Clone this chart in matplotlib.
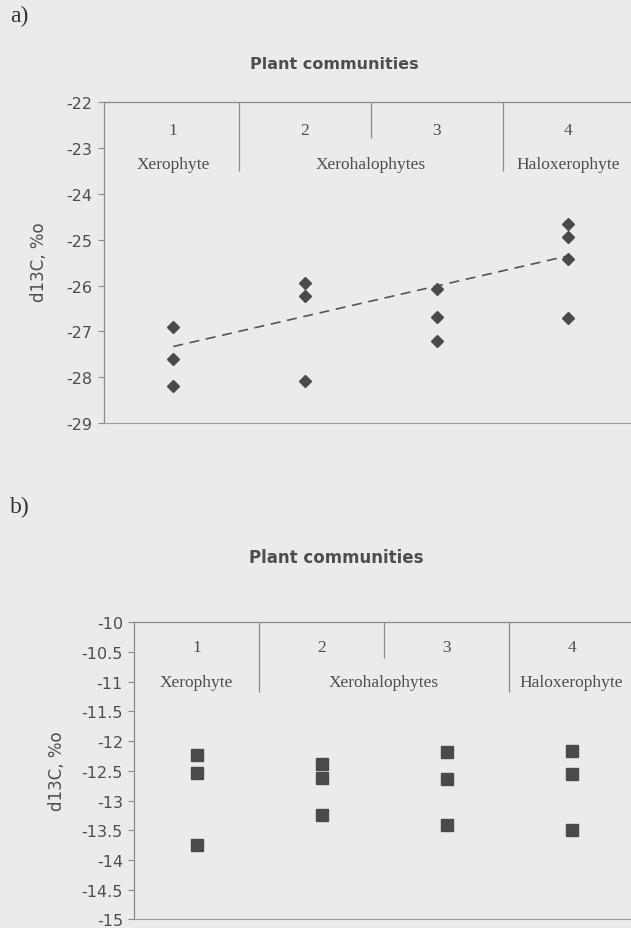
import matplotlib
matplotlib.use("Agg")
import matplotlib.pyplot as plt

# ---- data ----
categories = [1, 2, 3, 4]
cat_numbers = ["1", "2", "3", "4"]
group_names = ["Xerophyte", "Xerohalophytes", "Haloxerophyte"]
group_centers = [1, 2.5, 4]
dividers = [1.5, 2.5, 3.5]

# panel a (diamonds)
a_x = [1, 1, 1, 2, 2, 2, 3, 3, 3, 4, 4, 4, 4]
a_y = [-26.91, -27.61, -28.19,
       -25.94, -26.23, -28.09,
       -26.08, -26.68, -27.20,
       -24.65, -24.94, -25.42, -26.70]
a_trend_x = [1, 4]
a_trend_y = [-27.33, -25.35]
a_yticks = [-22, -23, -24, -25, -26, -27, -28, -29]

# panel b (squares)
b_x = [1, 1, 1, 2, 2, 2, 3, 3, 3, 4, 4, 4]
b_y = [-12.23, -12.53, -13.75,
       -12.38, -12.62, -13.24,
       -12.19, -12.64, -13.42,
       -12.16, -12.56, -13.49]
b_yticks = [-10, -10.5, -11, -11.5, -12, -12.5, -13, -13.5, -14, -14.5, -15]

BG = "#ebebeb"
TXT = "#4d4d4d"
LINE = "#8a8a8a"
MARK = "#4a4a4a"

W, H = 631, 929
fig = plt.figure(figsize=(W / 100, H / 100), dpi=100, facecolor=BG)


def fx(px):
    return px / W


def fy(py):
    return 1 - py / H


def setup(ax, ylim, yticks, xlim):
    ax.set_facecolor("none")
    ax.set_xlim(*xlim)
    ax.set_ylim(*ylim)
    ax.set_xticks([])
    ax.set_yticks(yticks)
    ax.set_yticklabels([("%g" % t) for t in yticks],
                       fontfamily="DejaVu Sans", fontsize=11.5, color=TXT)
    ax.tick_params(axis="y", direction="out", length=4, width=0.8,
                   color=LINE, pad=4)
    for s in ["left", "top"]:
        ax.spines[s].set_color(LINE)
        ax.spines[s].set_linewidth(0.9)
    ax.spines["right"].set_visible(False)
    ax.spines["bottom"].set_color("#9a9a9a")
    ax.spines["bottom"].set_linewidth(0.8)
    ax.spines["bottom"].set_linestyle((0, (1, 1)))


SERIF = dict(fontfamily="Liberation Serif", fontsize=12.5, color=TXT,
             ha="center", va="center")

# ---------------- panel a ----------------
axa = fig.add_axes([fx(103.5), fy(424), fx(536), (424 - 103.3) / H])
setup(axa, (-29, -22), a_yticks, (0.47, 4.54))
div_a_len = [-23.5, -22.78, -23.5]
for d, yb in zip(dividers, div_a_len):
    axa.plot([d, d], [-22, yb], color=LINE, lw=0.9, solid_capstyle="butt")
for c, t in zip(categories, cat_numbers):
    axa.text(c, -22.6, t, **SERIF)
for c, t in zip(group_centers, group_names):
    axa.text(c, -23.35, t, **SERIF)
axa.plot(a_trend_x, a_trend_y, color="#555555", lw=1.2, dashes=(6, 4))
axa.plot(a_x, a_y, linestyle="none", marker="D", markersize=5.7,
         color=MARK, markeredgecolor=MARK)

fig.text(fx(10), fy(16), "a)", fontfamily="Liberation Serif", fontsize=17,
         color="#333333", ha="left", va="center")
fig.text(fx(334), fy(65), "Plant communities", fontfamily="DejaVu Sans",
         fontweight="bold", fontsize=11.5, color=TXT, ha="center", va="center")
fig.text(fx(39), fy(262.5), "d13C, %o", fontfamily="DejaVu Sans", fontsize=12,
         color=TXT, rotation=90, ha="center", va="center")

# ---------------- panel b ----------------
axb = fig.add_axes([fx(134), fy(920.3), fx(500), (920.3 - 623.3) / H])
setup(axb, (-15, -10), b_yticks, (0.5, 4.5))
div_b_len = [-11.17, -10.6, -11.17]
for d, yb in zip(dividers, div_b_len):
    axb.plot([d, d], [-10, yb], color=LINE, lw=0.9, solid_capstyle="butt")
for c, t in zip(categories, cat_numbers):
    axb.text(c, -10.42, t, **SERIF)
for c, t in zip(group_centers, group_names):
    axb.text(c, -11.0, t, **SERIF)
axb.plot(b_x, b_y, linestyle="none", marker="s", markersize=8,
         color=MARK, markeredgecolor=MARK)

fig.text(fx(10), fy(507), "b)", fontfamily="Liberation Serif", fontsize=17,
         color="#333333", ha="left", va="center")
fig.text(fx(336), fy(558), "Plant communities", fontfamily="DejaVu Sans",
         fontweight="bold", fontsize=12, color=TXT, ha="center", va="center")
fig.text(fx(57.5), fy(771.5), "d13C, %o", fontfamily="DejaVu Sans", fontsize=12,
         color=TXT, rotation=90, ha="center", va="center")

fig.savefig("out.png", dpi=100, facecolor=BG)
